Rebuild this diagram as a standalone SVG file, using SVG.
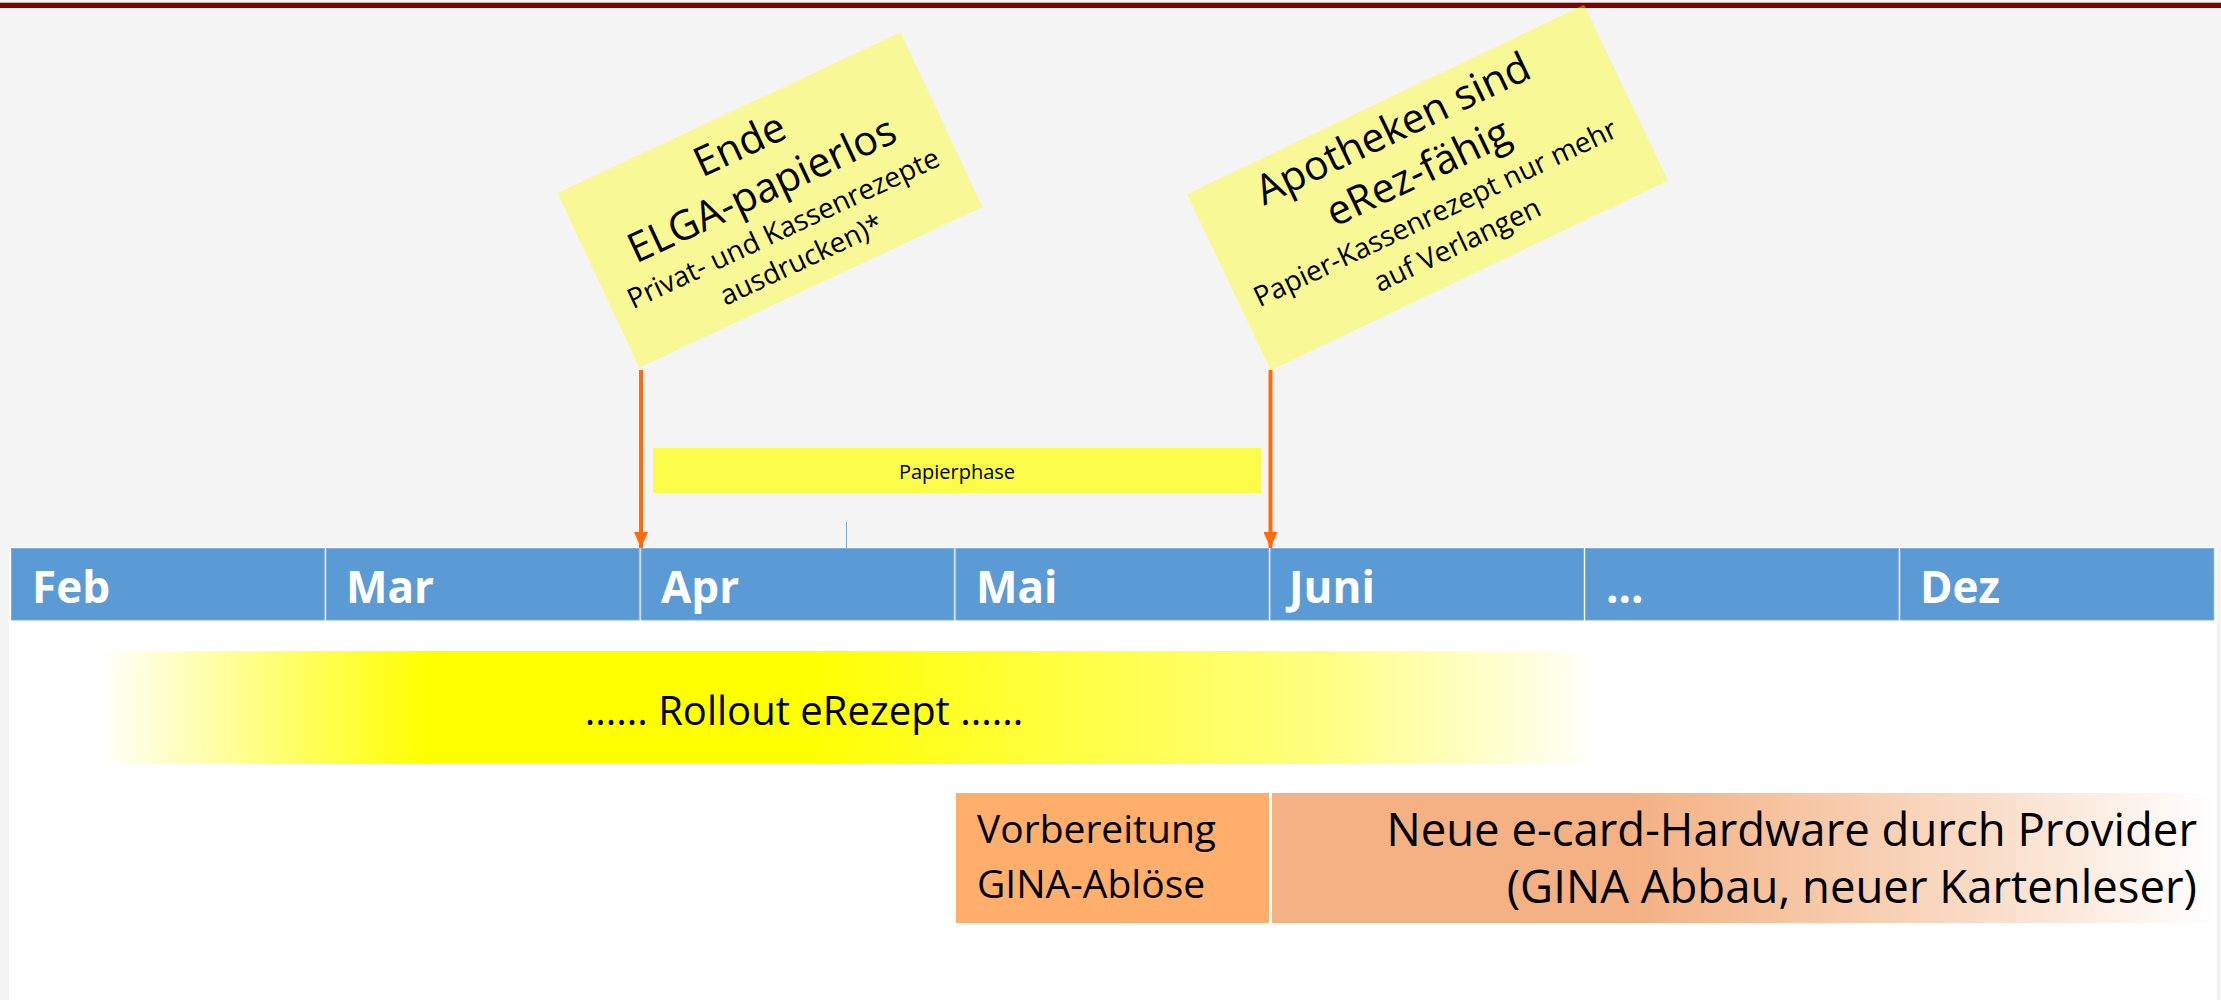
<svg xmlns="http://www.w3.org/2000/svg" width="2221" height="1000" viewBox="0 0 2221 1000">
<style>
text{font-family:"Open Sans","Noto Sans","Liberation Sans",sans-serif;fill:#000}
.note{fill:#ffff00;fill-opacity:0.38}
.big{font-size:41px;text-anchor:middle}
.small{font-size:28px;text-anchor:middle}
.cell{fill:#5b9bd5;stroke:#80abdc;stroke-width:1}
.month{font-size:44px;font-weight:bold;fill:#fff}
.arrow{stroke:#ff6a0a;stroke-width:4;fill:none}
</style>
<defs>
<marker id="ah" viewBox="0 0 16 14" refX="16" refY="7" markerWidth="16" markerHeight="14" markerUnits="userSpaceOnUse" orient="auto">
<path d="M0,0 L16,7 L0,14 z" fill="#ff6a0a"/>
</marker>
<linearGradient id="gRoll" gradientUnits="userSpaceOnUse" x1="100" y1="0" x2="1586" y2="0">
<stop offset="0" stop-color="#ffffff"/>
<stop offset="0.22" stop-color="#ffff00"/>
<stop offset="0.47" stop-color="#ffff00"/>
<stop offset="0.82" stop-color="#ffff80"/>
<stop offset="1" stop-color="#fffff8"/>
</linearGradient>
<linearGradient id="gNeue" gradientUnits="userSpaceOnUse" x1="1272" y1="0" x2="2215" y2="0">
<stop offset="0" stop-color="#f4b183"/>
<stop offset="0.38" stop-color="#f4b183"/>
<stop offset="0.75" stop-color="#f9dcc6"/>
<stop offset="1" stop-color="#ffffff"/>
</linearGradient>
</defs>

<rect x="0" y="0" width="2221" height="1000" fill="#f4f4f4"/>
<rect x="0" y="2" width="2221" height="1" fill="#c9a9a9"/>
<rect x="0" y="3" width="2221" height="5" fill="#800000"/>
<rect x="9" y="547" width="2208" height="453" fill="#ffffff"/>

<g id="papierphase">
<rect x="653" y="448" width="608" height="45" fill="#fbfb4a"/>
<text x="957" y="479" font-size="20" text-anchor="middle">Papierphase</text>
</g>
<line x1="846.5" y1="522" x2="846.5" y2="548" stroke="#7aa7d6" stroke-width="1"/>

<g id="timeline">
<g id="m-feb"><rect class="cell" x="11.5" y="548.5" width="312.8" height="71.5"/><text class="month" x="32" y="603">Feb</text></g>
<g id="m-mar"><rect class="cell" x="326.3" y="548.5" width="312.8" height="71.5"/><text class="month" x="346" y="603">Mar</text></g>
<g id="m-apr"><rect class="cell" x="641.1" y="548.5" width="312.8" height="71.5"/><text class="month" x="661" y="603">Apr</text></g>
<g id="m-mai"><rect class="cell" x="955.9" y="548.5" width="312.8" height="71.5"/><text class="month" x="976" y="603">Mai</text></g>
<g id="m-juni"><rect class="cell" x="1270.7" y="548.5" width="312.8" height="71.5"/><text class="month" x="1289" y="603">Juni</text></g>
<g id="m-dots"><rect class="cell" x="1585.5" y="548.5" width="312.8" height="71.5"/><text class="month" x="1606" y="603">...</text></g>
<g id="m-dez"><rect class="cell" x="1900.3" y="548.5" width="313.5" height="71.5"/><text class="month" x="1920" y="603">Dez</text></g>
</g>

<g id="rollout">
<rect x="100" y="651" width="1486" height="113" fill="url(#gRoll)"/>
<text x="804" y="725" font-size="40" text-anchor="middle">...... Rollout eRezept ......</text>
</g>

<g id="vorbereitung">
<rect x="956" y="793" width="313" height="130" fill="#ffaf6b"/>
<text x="977" y="843" font-size="39">Vorbereitung</text>
<text x="977" y="898" font-size="39">GINA-Ablöse</text>
</g>

<g id="neue-hardware">
<rect x="1272" y="793" width="943" height="130" fill="url(#gNeue)"/>
<text x="2197" y="846" font-size="45.5" text-anchor="end">Neue e-card-Hardware durch Provider</text>
<text x="2197" y="903" font-size="45.5" text-anchor="end">(GINA Abbau, neuer Kartenleser)</text>
</g>

<g id="note-ende" transform="translate(770,200) rotate(-25.1)">
<rect class="note" x="-189.5" y="-96.5" width="379" height="193"/>
<text class="big" x="-4" y="-49">Ende</text>
<text class="big" x="-3" y="1">ELGA-papierlos</text>
<text class="small" x="0" y="41">Privat- und Kassenrezepte</text>
<text class="small" x="3" y="77">ausdrucken)*</text>
</g>

<g id="note-apotheken" transform="translate(1427.5,187.5) rotate(-25.5)">
<rect class="note" x="-220" y="-97.5" width="440" height="195"/>
<text class="big" x="-6" y="-54">Apotheken sind</text>
<text class="big" x="-2" y="-4">eRez-fähig</text>
<text class="small" x="-4" y="36">Papier-Kassenrezept nur mehr</text>
<text class="small" x="2" y="74">auf Verlangen</text>
</g>

<g id="connectors">
<line class="arrow" x1="641" y1="370" x2="641" y2="548" marker-end="url(#ah)"/>
<line class="arrow" x1="1270.5" y1="370" x2="1270.5" y2="548" marker-end="url(#ah)"/>
</g>
</svg>
